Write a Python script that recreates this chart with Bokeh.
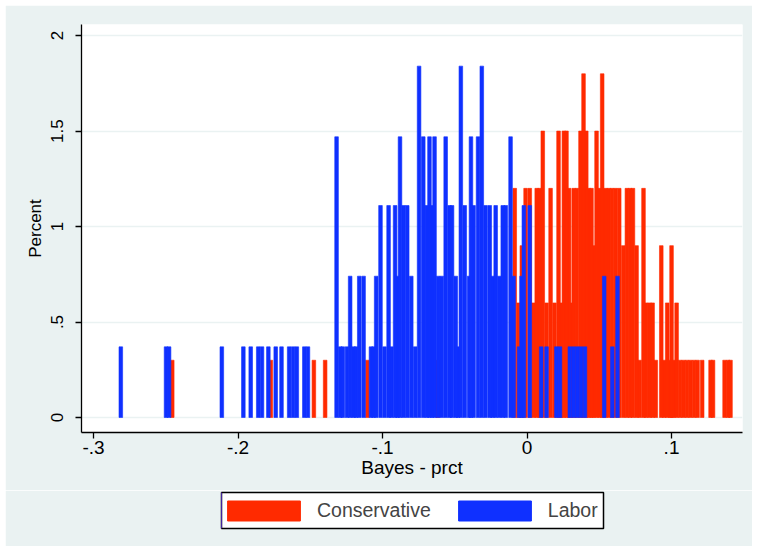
from bokeh.plotting import figure
from bokeh.layouts import column
from bokeh.models import ColumnDataSource, FixedTicker, Legend, LegendItem, Range1d
from bokeh.embed import file_html
from bokeh.resources import INLINE

# ---- data (bar position, percent) ----
labor_x = [-0.2811, -0.2498, -0.2477, -0.2112, -0.1963, -0.1912, -0.1860, -0.1834,
           -0.1790, -0.1739, -0.1699, -0.1646, -0.1619, -0.1593, -0.1541, -0.1516,
           -0.1318, -0.1292, -0.1275, -0.1246, -0.1224, -0.1200, -0.1183, -0.1161,
           -0.1131, -0.1080, -0.1062, -0.1044, -0.1014, -0.0986, -0.0958, -0.0938,
           -0.0913, -0.0896, -0.0879, -0.0855, -0.0829, -0.0801, -0.0774, -0.0747,
           -0.0718, -0.0693, -0.0675, -0.0657, -0.0640, -0.0615, -0.0590, -0.0563,
           -0.0536, -0.0519, -0.0493, -0.0478, -0.0458, -0.0431, -0.0401, -0.0388,
           -0.0370, -0.0339, -0.0313, -0.0287, -0.0258, -0.0239, -0.0217, -0.0192,
           -0.0168, -0.0147, -0.0114, -0.0093, -0.0055, -0.0038, -0.0022, 0.0019,
           0.0098, 0.0135, 0.0203, 0.0228, 0.0296, 0.0322, 0.0348, 0.0374,
           0.0401, 0.0534, 0.0590, 0.0626]
labor_pct = [0.37, 0.37, 0.37, 0.37, 0.37, 0.37, 0.37, 0.37,
             0.37, 0.37, 0.37, 0.37, 0.37, 0.37, 0.37, 0.37,
             1.47, 0.37, 0.37, 0.37, 0.74, 0.37, 0.37, 0.74,
             0.74, 0.37, 0.37, 0.74, 1.11, 0.37, 1.11, 0.37,
             1.11, 0.74, 1.47, 1.11, 1.11, 0.74, 0.37, 1.84,
             1.47, 1.11, 1.47, 1.11, 1.47, 0.74, 0.74, 1.47,
             1.11, 1.11, 0.74, 0.37, 1.84, 1.11, 0.74, 1.47,
             1.11, 1.47, 1.84, 1.11, 1.11, 0.74, 1.11, 0.74,
             1.11, 1.11, 1.47, 0.74, 0.37, 0.74, 1.11, 1.11,
             0.37, 0.37, 0.37, 0.37, 0.37, 0.37, 0.37, 0.37,
             0.37, 0.74, 0.37, 0.74]

cons_x = [-0.2455, -0.1773, -0.1475, -0.1397, -0.1105, -0.0619,
          -0.0085, -0.0059, -0.0036, -0.0010, 0.0019, 0.0045, 0.0067, 0.0087,
          0.0109, 0.0135, 0.0163, 0.0190, 0.0218, 0.0238, 0.0255, 0.0273,
          0.0291, 0.0305, 0.0323, 0.0345, 0.0370, 0.0391, 0.0410, 0.0428,
          0.0446, 0.0460, 0.0481, 0.0502, 0.0520, 0.0543, 0.0566, 0.0588,
          0.0612, 0.0638, 0.0666, 0.0691, 0.0713, 0.0733, 0.0758, 0.0779,
          0.0806, 0.0824, 0.0848, 0.0869, 0.0891, 0.0929, 0.0949, 0.0970,
          0.0991, 0.1000, 0.1014, 0.1035, 0.1059, 0.1083, 0.1107, 0.1131,
          0.1156, 0.1180, 0.1212, 0.1270, 0.1287, 0.1367, 0.1391, 0.1408]
cons_pct = [0.3, 0.3, 0.3, 0.3, 0.3, 0.3,
            1.2, 0.6, 0.9, 1.2, 1.2, 0.6, 1.2, 1.2,
            1.5, 0.6, 1.2, 0.6, 1.5, 0.6, 1.5, 1.5,
            1.2, 0.6, 1.2, 1.2, 1.5, 1.8, 1.5, 1.2,
            1.2, 0.9, 1.5, 1.2, 1.8, 1.2, 1.2, 1.2,
            1.2, 1.2, 0.9, 1.2, 1.2, 1.2, 0.9, 0.3,
            1.2, 0.6, 0.6, 0.6, 0.3, 0.9, 0.3, 0.6,
            0.3, 0.9, 0.3, 0.6, 0.3, 0.3, 0.3, 0.3,
            0.3, 0.3, 0.3, 0.3, 0.3, 0.3, 0.3, 0.3]

x_ticks = [-0.3, -0.2, -0.1, 0.0, 0.1]
x_tick_labels = ["-.3", "-.2", "-.1", "0", ".1"]
y_ticks = [0.0, 0.5, 1.0, 1.5, 2.0]
y_tick_labels = ["0", ".5", "1", "1.5", "2"]
series_names = ["Conservative", "Labor"]

BG = "#EAF2F2"
RED = "#FF2A00"
BLUE = "#0F30FF"
BIN_W = 0.0025
FONT = "Liberation Sans"


def sorted_source(xs, hs):
    order = sorted(range(len(xs)), key=lambda i: hs[i])
    return ColumnDataSource(dict(x=[xs[i] for i in order], top=[hs[i] for i in order]))


# ---------------- main plot ----------------
p = figure(width=747, height=485, x_range=(-0.3083, 0.1491), y_range=(-0.0785, 2.058),
           output_backend="svg", toolbar_location=None,
           min_border_left=76, min_border_right=10, min_border_top=19, min_border_bottom=58)
p.frame_align = False

p.background_fill_color = "white"
p.border_fill_color = BG
p.outline_line_color = None

p.vbar(x="x", top="top", bottom=0, width=BIN_W, source=sorted_source(cons_x, cons_pct),
       fill_color=RED, line_color=RED, line_width=0.6)
p.vbar(x="x", top="top", bottom=0, width=BIN_W, source=sorted_source(labor_x, labor_pct),
       fill_color=BLUE, line_color=BLUE, line_width=0.6)

p.xgrid.visible = False
p.ygrid.ticker = FixedTicker(ticks=y_ticks)
p.ygrid.grid_line_color = BG
p.ygrid.grid_line_width = 1.5

p.xaxis.ticker = FixedTicker(ticks=x_ticks)
p.xaxis.major_label_overrides = dict(zip(x_ticks, x_tick_labels))
p.yaxis.ticker = FixedTicker(ticks=y_ticks)
p.yaxis.major_label_overrides = dict(zip(y_ticks, y_tick_labels))
p.yaxis.major_label_orientation = "vertical"

for ax in (p.xaxis, p.yaxis):
    ax.axis_line_color = "black"
    ax.axis_line_width = 1.3
    ax.major_tick_line_color = "black"
    ax.major_tick_line_width = 1.3
    ax.major_tick_out = 6
    ax.major_tick_in = 0
    ax.minor_tick_out = 0
    ax.minor_tick_in = 0
    ax.major_label_text_font = FONT
    ax.major_label_text_color = "black"
    ax.axis_label_text_font = FONT
    ax.axis_label_text_font_style = "normal"
    ax.axis_label_text_color = "black"

p.xaxis.axis_label = "Bayes - prct"
p.xaxis.major_label_text_font_size = "19px"
p.xaxis.axis_label_text_font_size = "19px"
p.xaxis.major_label_standoff = 2
p.xaxis.axis_label_standoff = 0

p.yaxis.axis_label = "Percent"
p.yaxis.major_label_text_font_size = "17px"
p.yaxis.axis_label_text_font_size = "17px"
p.yaxis.major_label_standoff = 12
p.yaxis.axis_label_standoff = 4

# ---------------- legend strip: its frame (white, black outline) is the legend box ----------------
lg = figure(width=747, height=56, output_backend="svg", toolbar_location=None,
            x_range=Range1d(0, 1), y_range=Range1d(0, 1),
            x_axis_type=None, y_axis_type=None,
            min_border_left=216, min_border_right=149, min_border_top=2, min_border_bottom=18)
lg.frame_align = False
lg.background_fill_color = "white"
lg.border_fill_color = BG
lg.outline_line_color = "black"
lg.outline_line_width = 1.5
lg.grid.visible = False
# key glyphs lie outside the strip's range, so only their legend swatches show
k_cons = lg.vbar(x=[-5], top=[1], width=0.1, fill_color=RED, line_color=RED)
k_lab = lg.vbar(x=[-5], top=[1], width=0.1, fill_color=BLUE, line_color=BLUE)

legend = Legend(items=[LegendItem(label=series_names[0], renderers=[k_cons]),
                       LegendItem(label=series_names[1], renderers=[k_lab])],
                location=(-3, 5.5), orientation="horizontal",
                glyph_width=91, glyph_height=25, label_height=25,
                label_standoff=8, spacing=18, padding=0, margin=0,
                label_text_font=FONT, label_text_font_size="19.5px",
                border_line_color=None, background_fill_alpha=0.0)
lg.add_layout(legend)

layout = column(p, lg, spacing=0)
layout.margin = (5, 0, 0, 5)

open("out.html", "w").write(file_html(layout, INLINE))
